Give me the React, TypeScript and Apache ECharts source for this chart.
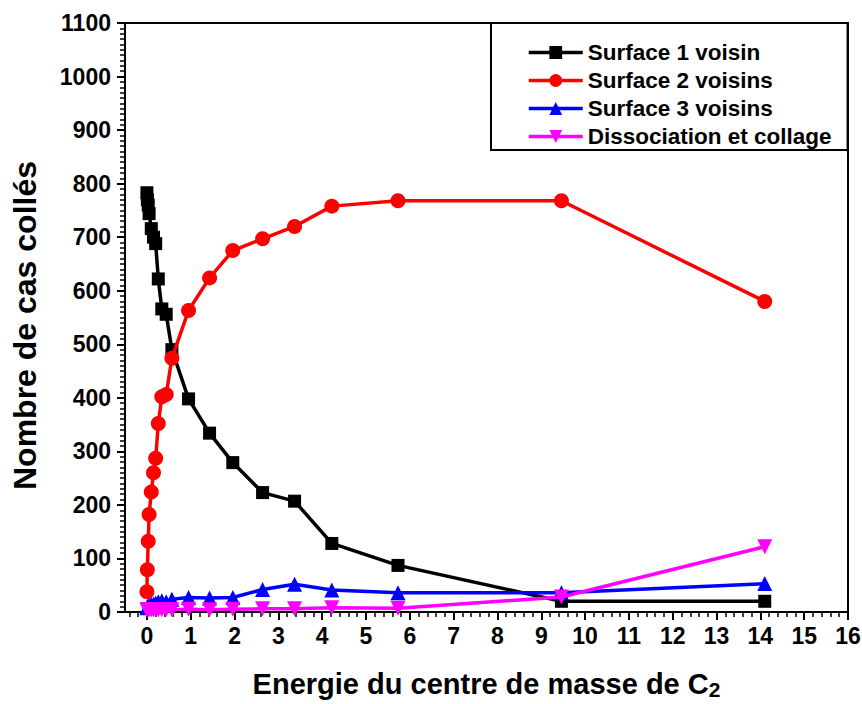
import React, { useEffect, useRef } from "react";
import * as echarts from "echarts";

const energies = [0, 0.01, 0.03, 0.05, 0.1, 0.15, 0.2, 0.26, 0.34, 0.44, 0.57, 0.95, 1.43, 1.96, 2.64, 3.37, 4.22, 5.73, 9.46, 14.1];
const surface1 = [783, 770, 760, 744, 716, 700, 688, 622, 566, 556, 490, 398, 334, 279, 223, 207, 128, 87, 20, 20];
const surface2 = [38, 79, 132, 182, 224, 260, 287, 352, 402, 406, 474, 563, 624, 675, 697, 720, 758, 768, 768, 580];
const surface3 = [8, 10, 11, 12, 14, 15, 17, 19, 21, 19, 24, 27, 26, 27, 42, 52, 41, 36, 36, 53];
const dissociation = [4, 4, 4, 4, 4, 4, 4, 4, 4, 4, 4, 5, 4, 5, 6, 6, 8, 7, 28, 122];

const xTickLabels = [0, 1, 2, 3, 4, 5, 6, 7, 8, 9, 10, 11, 12, 13, 14, 15, 16];
const xMinorTicks = [
  -0.4, -0.2, 0.2, 0.4, 0.6, 0.8, 1.2, 1.4, 1.6, 1.8, 2.2, 2.4, 2.6, 2.8, 3.2, 3.4, 3.6, 3.8,
  4.2, 4.4, 4.6, 4.8, 5.2, 5.4, 5.6, 5.8, 6.2, 6.4, 6.6, 6.8, 7.2, 7.4, 7.6, 7.8,
  8.2, 8.4, 8.6, 8.8, 9.2, 9.4, 9.6, 9.8, 10.2, 10.4, 10.6, 10.8, 11.2, 11.4, 11.6, 11.8,
  12.2, 12.4, 12.6, 12.8, 13.2, 13.4, 13.6, 13.8, 14.2, 14.4, 14.6, 14.8, 15.2, 15.4, 15.6, 15.8,
];

const seriesNames = ["Surface 1 voisin", "Surface 2 voisins", "Surface 3 voisins", "Dissociation et collage"];
const seriesColors = ["#000000", "#ff0000", "#0000ff", "#ff00ff"];
const seriesSymbols = ["rect", "circle", "triangle", "path://M0,0 L10,0 L5,9 Z"];
const seriesSizes = [13, 15, 15, 15];
const seriesValues = [surface1, surface2, surface3, dissociation];

const FONT = "Liberation Sans, Arial, sans-serif";

export default function App() {
  const ref = useRef<HTMLDivElement>(null);
  useEffect(() => {
    if (!ref.current) return;
    const chart = echarts.init(ref.current, undefined, { renderer: "svg" });
    const series = seriesValues.map((vals, i) => ({
      name: seriesNames[i],
      type: "line",
      xAxisIndex: 0,
      data: energies.map((e, j) => [e, vals[j]]),
      symbol: seriesSymbols[i],
      symbolSize: seriesSizes[i],
      itemStyle: { color: seriesColors[i] },
      lineStyle: { color: seriesColors[i], width: 3.5 },
      z: 2 + i,
    }));
    chart.setOption({
      animation: false,
      backgroundColor: "#ffffff",
      textStyle: { fontFamily: FONT },
      grid: {
        left: 125,
        right: 14,
        top: 23,
        bottom: 92,
        show: true,
        borderColor: "#000",
        borderWidth: 2,
        containLabel: false,
        outerBoundsMode: "none",
      },
      legend: {
        orient: "vertical",
        left: 491,
        top: 23,
        backgroundColor: "#fff",
        borderColor: "#000",
        borderWidth: 2,
        padding: [18, 16, 2, 36],
        itemWidth: 54,
        itemHeight: 16,
        itemGap: 5,
        lineStyle: { width: 3.5 },
        textStyle: { fontFamily: FONT, fontWeight: "bold", fontSize: 22.5, color: "#000", lineHeight: 22 },
        data: seriesNames,
      },
      xAxis: [
        {
          type: "value",
          min: -0.5,
          max: 16,
          axisLine: { show: true, onZero: false, lineStyle: { color: "#000", width: 2 } },
          axisTick: { show: true, inside: false, length: 8, customValues: xTickLabels, lineStyle: { color: "#000", width: 2 } },
          splitLine: { show: false },
          axisLabel: {
            margin: 12,
            color: "#000",
            fontFamily: FONT,
            fontWeight: "bold",
            fontSize: 23,
            customValues: xTickLabels,
            formatter: (v: number) => String(v),
          },
          name: "Energie du centre de masse de C{sub|2}",
          nameLocation: "middle",
          nameGap: 55,
          nameTextStyle: {
            color: "#000",
            fontFamily: FONT,
            fontWeight: "bold",
            fontSize: 29,
            rich: {
              sub: { fontFamily: FONT, fontWeight: "bold", fontSize: 21, color: "#000", verticalAlign: "bottom", padding: [12, 0, 0, 0] },
            },
          },
        },
        {
          type: "value",
          position: "bottom",
          min: -0.5,
          max: 16,
          axisLine: { show: false, onZero: false },
          axisTick: { show: true, inside: false, length: 5, customValues: xMinorTicks, lineStyle: { color: "#000", width: 1.5 } },
          axisLabel: { show: false },
          splitLine: { show: false },
        },
      ],
      yAxis: {
        type: "value",
        min: 0,
        max: 1100,
        interval: 100,
        axisLine: { show: true, onZero: false, lineStyle: { color: "#000", width: 2 } },
        axisTick: { show: true, inside: false, length: 8, lineStyle: { color: "#000", width: 2 } },
        minorTick: { show: true, splitNumber: 10, length: 5, lineStyle: { color: "#000", width: 1.5 } },
        splitLine: { show: false },
        axisLabel: {
          margin: 14,
          color: "#000",
          fontFamily: FONT,
          fontWeight: "bold",
          fontSize: 23,
          formatter: (v: number) => String(v),
        },
        name: "Nombre de cas collés",
        nameLocation: "middle",
        nameGap: 84,
        nameTextStyle: {
          color: "#000",
          fontFamily: FONT,
          fontWeight: "bold",
          fontSize: 32,
          padding: [0, 16, 0, 0],
        },
      },
      series,
    });
    return () => chart.dispose();
  }, []);
  return <div ref={ref} style={{ width: 862, height: 704, position: "absolute", left: 0, top: 0 }} />;
}
